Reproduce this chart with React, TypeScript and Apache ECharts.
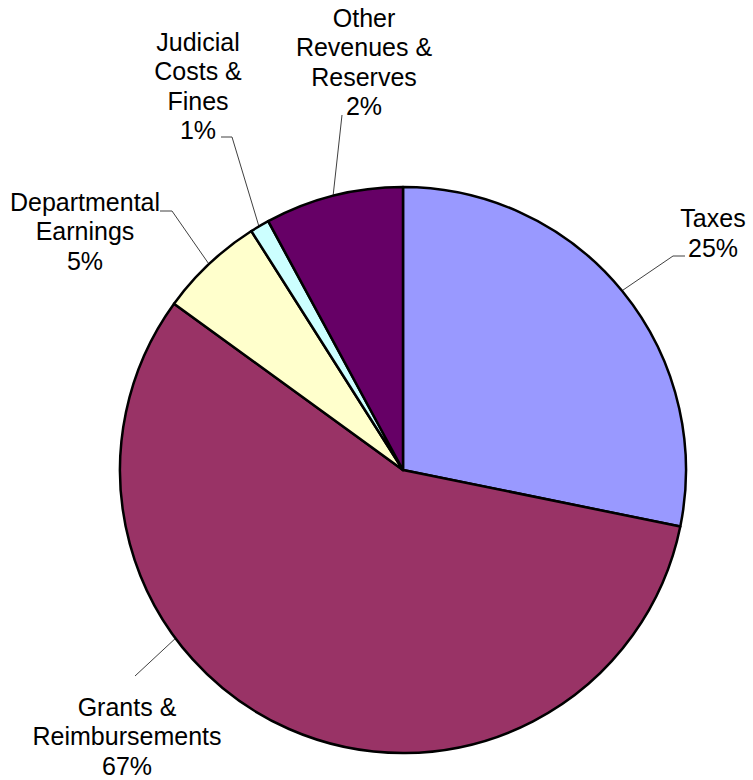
import React, { useEffect, useRef } from "react";
import * as echarts from "echarts";

const categories = [
  "Taxes",
  "Grants &\nReimbursements",
  "Departmental\nEarnings",
  "Judicial\nCosts &\nFines",
  "Other\nRevenues &\nReserves",
];
const sliceValues = [28.2, 56.8, 6.0, 1.1, 7.9];
const percentLabels = ["25%", "67%", "5%", "1%", "2%"];
const sliceColors = ["#9999FF", "#993366", "#FFFFCC", "#CCFFFF", "#660066"];

// layout constants (label block centres, leader line bends, leader start angles)
const CX = 403;
const CY = 470;
const R = 283;
const labelCenters = [
  [713, 233],
  [127, 736],
  [85, 231],
  [198, 86],
  [364, 62],
];
const leaderBends = [
  [[673, 256], [685, 256]],
  [[135, 676], [135, 676]],
  [[172, 211], [160, 211]],
  [[232, 137], [221, 137]],
  [[342, 115], [342, 115]],
];
const leaderAngles = [50.7, 233.5, 316.7, 329.4, 345.7];

export default function App() {
  const ref = useRef<HTMLDivElement>(null);
  useEffect(() => {
    if (!ref.current) return;
    const chart = echarts.init(ref.current, undefined, { renderer: "svg" });
    chart.setOption({
      animation: false,
      backgroundColor: "#ffffff",
      series: [
        {
          type: "pie",
          center: [CX, CY],
          radius: R,
          startAngle: 90,
          clockwise: true,
          avoidLabelOverlap: false,
          itemStyle: { borderColor: "#000000", borderWidth: 2.5 },
          emphasis: { disabled: true },
          label: {
            show: true,
            position: "outside",
            color: "#000000",
            fontFamily: "Liberation Sans, Arial, sans-serif",
            fontSize: 25,
            lineHeight: 29.5,
            align: "center",
            formatter: (p: any) => `${p.name}\n${percentLabels[p.dataIndex]}`,
          },
          labelLine: {
            show: true,
            lineStyle: { color: "#404040", width: 1 },
          },
          labelLayout: (params: any) => {
            const i = params.dataIndex;
            const a = (leaderAngles[i] * Math.PI) / 180;
            const start = [CX + R * Math.sin(a), CY - R * Math.cos(a)];
            return {
              x: labelCenters[i][0],
              y: labelCenters[i][1],
              align: "center",
              verticalAlign: "middle",
              labelLinePoints: [start, leaderBends[i][0], leaderBends[i][1]],
            };
          },
          data: categories.map((name, i) => ({
            name,
            value: sliceValues[i],
            itemStyle: { color: sliceColors[i] },
          })),
        },
      ],
    });
    return () => chart.dispose();
  }, []);
  return (
    <div
      ref={ref}
      style={{ position: "fixed", left: 0, top: 0, width: 753, height: 780 }}
    />
  );
}
